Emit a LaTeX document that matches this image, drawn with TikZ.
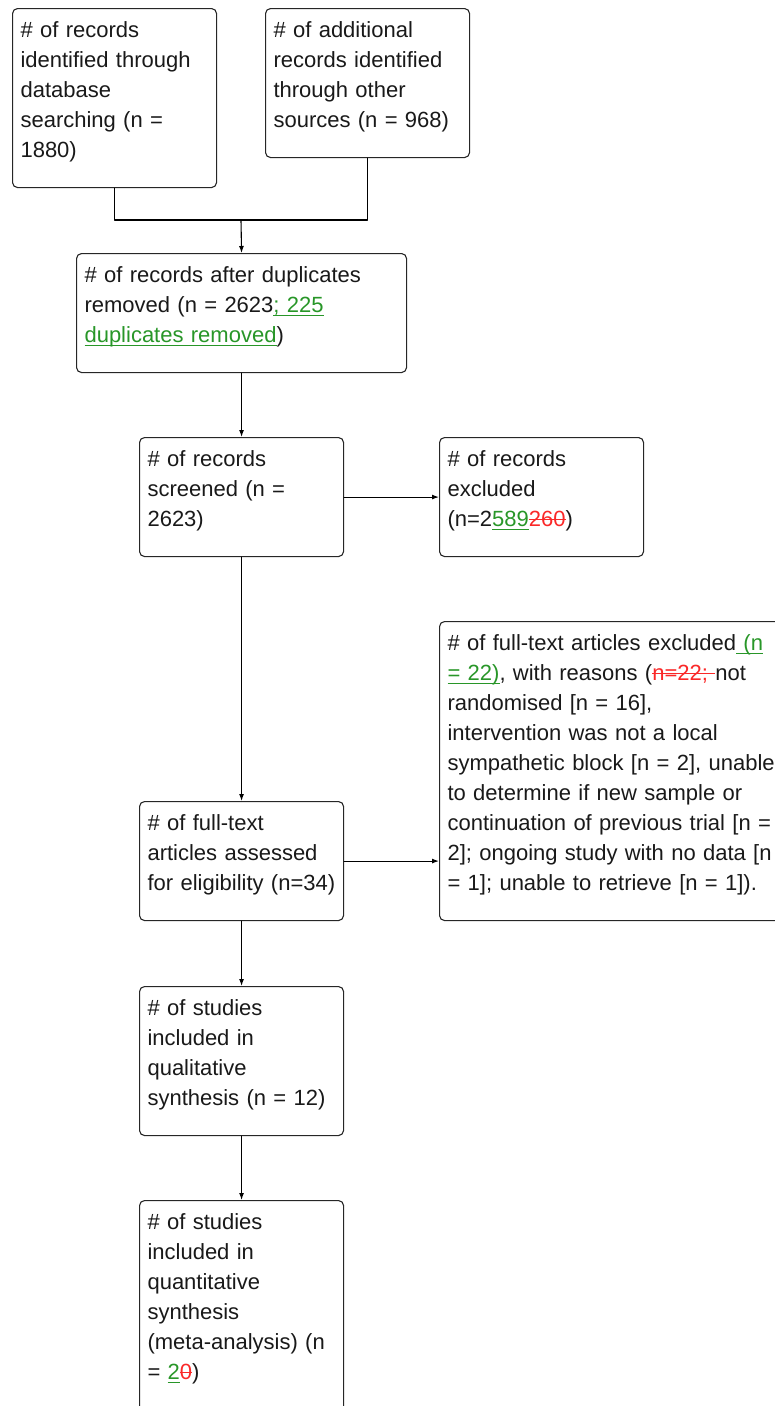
\documentclass[tikz,border=0pt]{standalone}
\usepackage{fontspec}
\setmainfont{Liberation Sans}
\usetikzlibrary{arrows.meta}
\definecolor{insgreen}{RGB}{40,150,40}
\definecolor{delred}{RGB}{250,40,40}
\newcommand{\addtxt}[1]{\leavevmode{\color{insgreen}\setbox0\hbox{#1}\rlap{\rule[-3.5pt]{\wd0}{1.1pt}}\box0}}
\newcommand{\deltxt}[1]{\leavevmode{\color{delred}\setbox0\hbox{#1}\rlap{\rule[6.5pt]{\wd0}{1.1pt}}\box0}}
\begin{document}
\begin{tikzpicture}[x=1pt, y=-1pt, line cap=round, line join=round, line width=1.1pt, >={Latex[length=7pt,width=5pt]}, font=\fontsize{22}{30}\selectfont]
	\tikzset{box/.style={draw=black!85, rounded corners=5pt, anchor=north west, inner xsep=8pt, inner ysep=0pt, align=left, text=black!90, text height=29pt}}
	\useasboundingbox (0,0) rectangle (775,1406);
	\node[box, text width=188pt, text depth=150pt] (dbrec) at (12,8) {\# of records\\identified through\\database\\searching (n =\\1880)};
	\node[box, text width=188pt, text depth=120pt] (otherrec) at (265,8) {\# of additional\\records identified\\through other\\sources (n = 968)};
	\node[box, text width=314pt, text depth=90pt] (dupl) at (76,253) {\# of records after duplicates\\removed (n = 2623\addtxt{; 225}\\\addtxt{duplicates removed})};
	\node[box, text width=188pt, text depth=90pt] (screen) at (139,437) {\# of records\\screened (n =\\2623)};
	\node[box, text width=188pt, text depth=90pt] (excl) at (439,437) {\# of records\\excluded\\(n=2\addtxt{589}\deltxt{260})};
	\node[box, text width=188pt, text depth=90pt] (fulltext) at (139,801) {\# of full-text\\articles assessed\\for eligibility (n=34)};
	\node[box, text width=344pt, text depth=270pt] (ftexcl) at (439,621) {\# of full-text articles excluded\addtxt{ (n}\\\addtxt{= 22)}, with reasons (\deltxt{n=22; }not\\randomised [n = 16],\\intervention was not a local\\sympathetic block [n = 2], unable\\to determine if new sample or\\continuation of previous trial [n =\\2]; ongoing study with no data [n\\= 1]; unable to retrieve [n = 1]).};
	\node[box, text width=188pt, text depth=120pt] (qual) at (139,986) {\# of studies\\included in\\qualitative\\synthesis (n = 12)};
	\node[box, text width=188pt, text depth=240pt] (quant) at (139,1200) {\# of studies\\included in\\quantitative\\synthesis\\(meta-analysis) (n\\= \addtxt{2}\deltxt{0})};
	\coordinate (join) at (241,220);
	\draw (dbrec.south) |- (join) -| (otherrec.south);
	\draw[->] (join) -- (dupl.north);
	\draw[->] (dupl.south) -- (screen.north);
	\draw[->] (screen.east) -- (excl.west);
	\draw[->] (screen.south) -- (fulltext.north);
	\draw[->] (fulltext.east) -- (fulltext.east -| ftexcl.west);
	\draw[->] (fulltext.south) -- (qual.north);
	\draw[->] (qual.south) -- (quant.north);
\end{tikzpicture}
\end{document}
